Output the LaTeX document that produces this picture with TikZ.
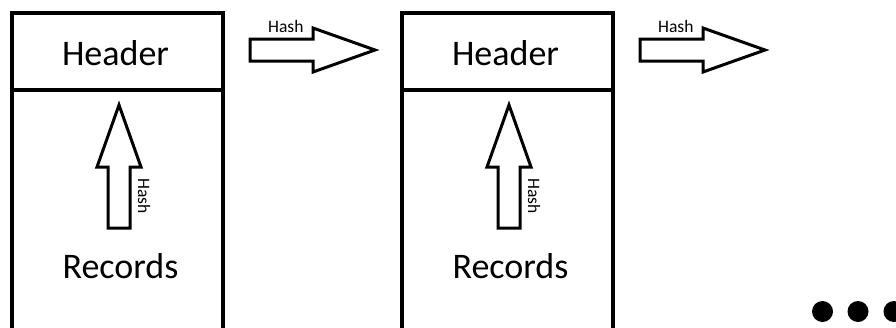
\documentclass[tikz,border=0pt]{standalone}
\usepackage{fontspec}
\setmainfont{Carlito}
\begin{document}
\begin{tikzpicture}[x=1pt,y=-1pt,
  blockline/.style={line width=3.5pt},
  hollowarrow/.style={draw,line width=3pt,line join=miter,fill=white},
  bigtext/.style={font=\fontsize{36}{40}\selectfont,anchor=base,inner sep=0pt},
  smalltext/.style={font=\fontsize{17.5}{20}\selectfont,inner sep=0pt},
  dot/.style={fill=black}]
\useasboundingbox (0,0) rectangle (896,327);
\clip (0,0) rectangle (896,327);

% two blocks, each a header over an open-ended record area
\foreach \dx/\n in {0/1,390/2}{
  \begin{scope}[xshift=\dx]
    \draw[blockline] (12,340) -- (12,13) -- (223,13) -- (223,340);
    \draw[blockline] (12,90) -- (223,90);
    \node[bigtext] (header\n) at (115.5,65) {Header};
    \node[bigtext] (records\n) at (120.5,278) {Records};
    % hash of the records feeding the header
    \draw[hollowarrow] (108,228) -- (108,167) -- (97,167) -- (119,105)
      -- (141,167) -- (130,167) -- (130,228) -- cycle;
    \node[smalltext,rotate=-90,anchor=base west] (uphash\n) at (138,178) {Hash};
    % hash of the header passed to the next block
    \draw[hollowarrow] (250,39) -- (313,39) -- (313,28) -- (375,50)
      -- (313,72) -- (313,61) -- (250,61) -- cycle;
    \node[smalltext,anchor=base west] (hash\n) at (268,32) {Hash};
  \end{scope}
}

% continuation dots
\fill[dot] (822.5,311.5) circle (10.5);
\fill[dot] (858,311.5) circle (10.5);
\fill[dot] (894,311.5) circle (10.5);
\end{tikzpicture}
\end{document}
